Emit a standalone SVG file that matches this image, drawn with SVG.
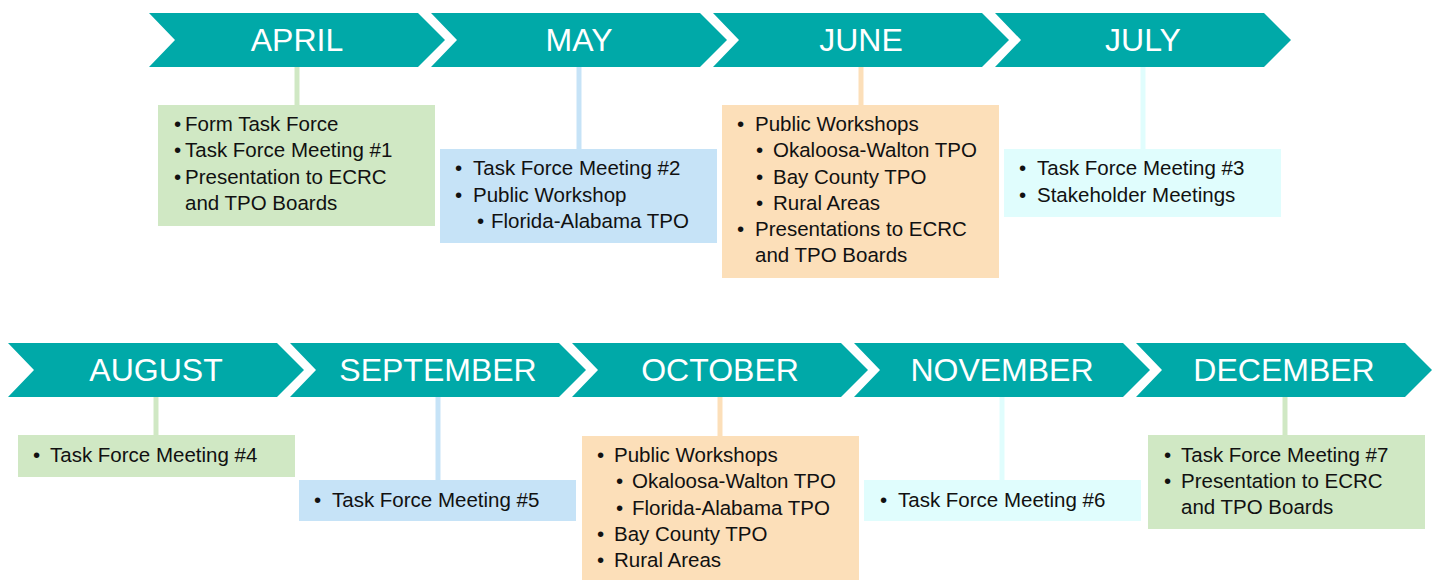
<svg xmlns="http://www.w3.org/2000/svg" width="1438" height="580" viewBox="0 0 1438 580">
<defs>
<style>
.chev{fill:#00A9A8}
.mon{font-family:"Liberation Sans",Arial,sans-serif;font-size:32px;fill:#fff;text-anchor:middle}
.t{font-family:"Liberation Sans",Arial,sans-serif;font-size:20.5px;fill:#111}
.g{fill:#D0E8C4}.b{fill:#C6E3F7}.o{fill:#FCDFB9}.c{fill:#E0FDFD}
.lg{stroke:#D0E8C4}.lb{stroke:#C6E3F7}.lo{stroke:#FCDFB9}.lc{stroke:#E0FDFD}
.ln{stroke-width:5;fill:none}
</style>
</defs>
<rect width="1438" height="580" fill="#fff"/>
<g id="connectors">
<line class="ln lg" x1="297" y1="66" x2="297" y2="106"/>
<line class="ln lb" x1="579" y1="66" x2="579" y2="150"/>
<line class="ln lo" x1="861" y1="66" x2="861" y2="106"/>
<line class="ln lc" x1="1143" y1="66" x2="1143" y2="150"/>
<line class="ln lg" x1="156" y1="396" x2="156" y2="436"/>
<line class="ln lb" x1="438" y1="396" x2="438" y2="481"/>
<line class="ln lo" x1="720" y1="396" x2="720" y2="437"/>
<line class="ln lc" x1="1002" y1="396" x2="1002" y2="481"/>
<line class="ln lg" x1="1285" y1="396" x2="1285" y2="436"/>
</g>
<g id="april">
<polygon class="chev" points="149,13 418,13 445,40 418,67 149,67 175,40"/>
<text class="mon" x="297" y="51">APRIL</text>
<rect class="g" x="158" y="105" width="277" height="121"/>
<text class="t" x="174" y="131">•</text><text class="t" x="185" y="131">Form Task Force</text>
<text class="t" x="174" y="157">•</text><text class="t" x="185" y="157">Task Force Meeting #1</text>
<text class="t" x="174" y="184">•</text><text class="t" x="185" y="184">Presentation to ECRC</text>
<text class="t" x="185" y="210">and TPO Boards</text>
</g>
<g id="may">
<polygon class="chev" points="431,13 700,13 727,40 700,67 431,67 457,40"/>
<text class="mon" x="579" y="51">MAY</text>
<rect class="b" x="440" y="149" width="277" height="94"/>
<text class="t" x="455" y="175">•</text><text class="t" x="473" y="175">Task Force Meeting #2</text>
<text class="t" x="455" y="202">•</text><text class="t" x="473" y="202">Public Workshop</text>
<text class="t" x="477" y="228">•</text><text class="t" x="491" y="228">Florida-Alabama TPO</text>
</g>
<g id="june">
<polygon class="chev" points="713,13 982,13 1009,40 982,67 713,67 739,40"/>
<text class="mon" x="861" y="51">JUNE</text>
<rect class="o" x="722" y="105" width="277" height="173"/>
<text class="t" x="737" y="131">•</text><text class="t" x="755" y="131">Public Workshops</text>
<text class="t" x="756" y="157">•</text><text class="t" x="773" y="157">Okaloosa-Walton TPO</text>
<text class="t" x="756" y="184">•</text><text class="t" x="773" y="184">Bay County TPO</text>
<text class="t" x="756" y="210">•</text><text class="t" x="773" y="210">Rural Areas</text>
<text class="t" x="737" y="236">•</text><text class="t" x="755" y="236">Presentations to ECRC</text>
<text class="t" x="755" y="262">and TPO Boards</text>
</g>
<g id="july">
<polygon class="chev" points="995,13 1264,13 1291,40 1264,67 995,67 1021,40"/>
<text class="mon" x="1143" y="51">JULY</text>
<rect class="c" x="1004" y="149" width="277" height="68"/>
<text class="t" x="1019" y="175">•</text><text class="t" x="1037" y="175">Task Force Meeting #3</text>
<text class="t" x="1019" y="202">•</text><text class="t" x="1037" y="202">Stakeholder Meetings</text>
</g>
<g id="august">
<polygon class="chev" points="8,343 277,343 304,370 277,397 8,397 34,370"/>
<text class="mon" x="156" y="381">AUGUST</text>
<rect class="g" x="18" y="435" width="277" height="42"/>
<text class="t" x="33" y="462">•</text><text class="t" x="50" y="462">Task Force Meeting #4</text>
</g>
<g id="september">
<polygon class="chev" points="290,343 559,343 586,370 559,397 290,397 316,370"/>
<text class="mon" x="438" y="381">SEPTEMBER</text>
<rect class="b" x="299" y="480" width="277" height="41"/>
<text class="t" x="314" y="507">•</text><text class="t" x="332" y="507">Task Force Meeting #5</text>
</g>
<g id="october">
<polygon class="chev" points="572,343 841,343 868,370 841,397 572,397 598,370"/>
<text class="mon" x="720" y="381">OCTOBER</text>
<rect class="o" x="582" y="436" width="277" height="144"/>
<text class="t" x="597" y="462">•</text><text class="t" x="614" y="462">Public Workshops</text>
<text class="t" x="616" y="488">•</text><text class="t" x="632" y="488">Okaloosa-Walton TPO</text>
<text class="t" x="616" y="515">•</text><text class="t" x="632" y="515">Florida-Alabama TPO</text>
<text class="t" x="597" y="541">•</text><text class="t" x="614" y="541">Bay County TPO</text>
<text class="t" x="597" y="567">•</text><text class="t" x="614" y="567">Rural Areas</text>
</g>
<g id="november">
<polygon class="chev" points="854,343 1123,343 1150,370 1123,397 854,397 880,370"/>
<text class="mon" x="1002" y="381">NOVEMBER</text>
<rect class="c" x="864" y="480" width="277" height="41"/>
<text class="t" x="880" y="507">•</text><text class="t" x="898" y="507">Task Force Meeting #6</text>
</g>
<g id="december">
<polygon class="chev" points="1136,343 1405,343 1432,370 1405,397 1136,397 1162,370"/>
<text class="mon" x="1284" y="381">DECEMBER</text>
<rect class="g" x="1148" y="435" width="277" height="94"/>
<text class="t" x="1164" y="462">•</text><text class="t" x="1181" y="462">Task Force Meeting #7</text>
<text class="t" x="1164" y="488">•</text><text class="t" x="1181" y="488">Presentation to ECRC</text>
<text class="t" x="1181" y="514">and TPO Boards</text>
</g>
</svg>
